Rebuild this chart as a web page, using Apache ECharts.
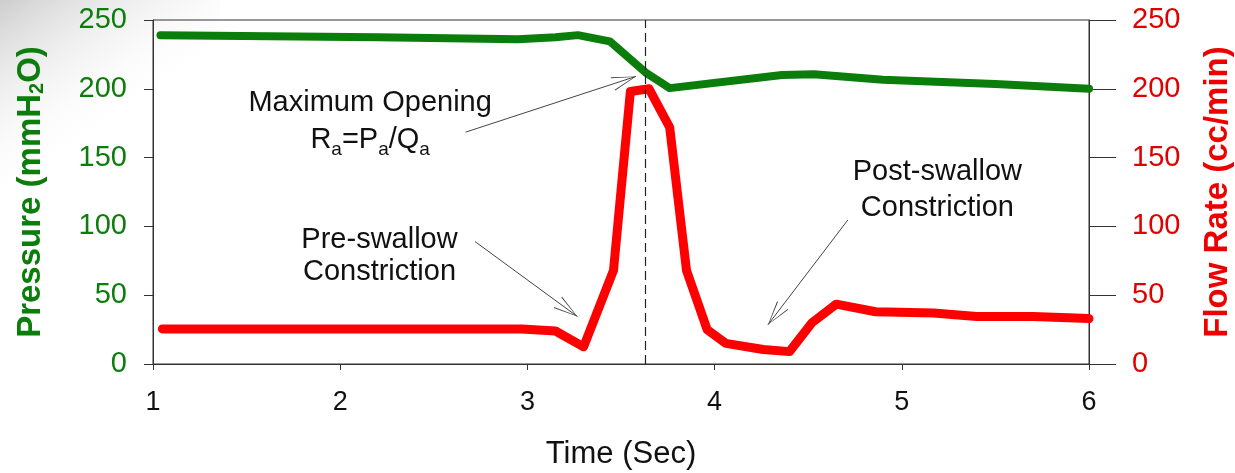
<!DOCTYPE html>
<html>
<head>
<meta charset="utf-8">
<script src="https://cdn.jsdelivr.net/npm/echarts@6/dist/echarts.min.js"></script>
<style>
  html, body { margin: 0; padding: 0; background: #fff; }
  #chart { width: 1235px; height: 473px; }
</style>
</head>
<body>
<div id="chart"></div>
<script>
// Pressure (left axis)
const timePressure = [1.04, 2.2, 2.95, 3.15, 3.27, 3.44, 3.63, 3.76, 4.36, 4.53, 4.9, 5.5, 6.0];
const pressure = [239, 237.5, 236, 237.5, 239, 234.5, 212, 200.5, 210, 210.5, 206.5, 203.5, 200];

// Flow rate (right axis)
const timeFlow = [1.05, 2.97, 3.15, 3.3, 3.46, 3.55, 3.65, 3.76, 3.85, 3.96, 4.06, 4.26, 4.4, 4.52, 4.65, 4.86, 5.17, 5.4, 5.7, 6.0];
const flow = [25.5, 25.5, 24, 12.5, 68, 198, 200, 172, 68, 25, 15, 10.5, 9, 30, 43.5, 38, 37, 34.5, 34.5, 33];

const xTicks = [1, 2, 3, 4, 5, 6];
const yTicks = [0, 50, 100, 150, 200, 250];

// moment of maximum opening (dashed line)
const maxOpeningTime = 3.634;

// annotations: text, [time, value] of text centre
const notes = [
  { text: "Maximum Opening\nR{s|a}=P{s|a}/Q{s|a}", at: [2.16, 176], lh: 37 },
  { text: "Pre-swallow\nConstriction", at: [2.21, 78.5], lh: 32 },
  { text: "Post-swallow\nConstriction", at: [5.19, 126.5], lh: 36 },
];
// arrows: [from, to] in [time, value]
const arrows = [
  [[2.67, 168.5], [3.58, 209]],
  [[2.72, 89], [3.267, 34.5]],
  [[4.712, 104.7], [4.285, 28.5]],
];

const FONT = "Liberation Sans, Arial, Helvetica, sans-serif";
const GREEN = "#0b7d0b";
const RED = "#ff0000";
const AXIS = "#333";

// open arrow head, tip at path centre so it lands on the end point
const arrowHead = "path://M0 0 L7 24 L6 24.4 L0 2 L-6 24.4 L-7 24 Z M0 -24.4 L0.001 -24.4 L0 -24.4 Z";

const chart = echarts.init(document.getElementById("chart"), null, { renderer: "canvas" });

const option = {
  animation: false,
  backgroundColor: "#fff",
  textStyle: { fontFamily: FONT },
  graphic: [
    {
      type: "rect",
      silent: true,
      z: -10,
      shape: { x: 0, y: 0, width: 220, height: 320 },
      style: {
        fill: new echarts.graphic.LinearGradient(0, 0, 1, 1, [
          { offset: 0, color: "rgba(205,205,205,1)" },
          { offset: 0.45, color: "rgba(255,255,255,0)" },
        ]),
      },
    },
  ],
  grid: {
    left: 153,
    right: 146,
    top: 20,
    bottom: 109,
    outerBoundsMode: "none",
    containLabel: false,
    show: true,
    borderColor: AXIS,
    borderWidth: 1,
  },
  xAxis: {
    type: "value",
    min: xTicks[0],
    max: xTicks[xTicks.length - 1],
    interval: 1,
    name: "Time (Sec)",
    nameLocation: "middle",
    nameGap: 75,
    nameTextStyle: { color: "#111", fontSize: 31, fontFamily: FONT },
    axisLine: { show: true, lineStyle: { color: AXIS, width: 1 } },
    axisTick: { show: true, length: 6, lineStyle: { color: AXIS } },
    axisLabel: { color: "#111", fontSize: 27, margin: 25, fontFamily: FONT },
    splitLine: { show: false },
  },
  yAxis: [
    {
      type: "value",
      position: "left",
      min: yTicks[0],
      max: yTicks[yTicks.length - 1],
      interval: 50,
      name: "Pressure (mmH{s|2}O)",
      nameLocation: "middle",
      nameRotate: 90,
      nameGap: 106,
      nameTextStyle: {
        color: GREEN,
        fontSize: 33,
        fontWeight: "bold",
        fontFamily: FONT,
        rich: { s: { fontSize: 20, fontWeight: "bold", color: GREEN, verticalAlign: "bottom", fontFamily: FONT } },
      },
      axisLine: { show: true, lineStyle: { color: AXIS, width: 1 } },
      axisTick: { show: true, length: 9, lineStyle: { color: AXIS } },
      axisLabel: { color: GREEN, fontSize: 29, margin: 26, fontFamily: FONT },
      splitLine: { show: false },
    },
    {
      type: "value",
      position: "right",
      min: yTicks[0],
      max: yTicks[yTicks.length - 1],
      interval: 50,
      name: "Flow Rate (cc/min)",
      nameLocation: "middle",
      nameRotate: 90,
      nameGap: 112,
      nameTextStyle: { color: "#ee0000", fontSize: 33, fontWeight: "bold", fontFamily: FONT },
      axisLine: { show: true, lineStyle: { color: AXIS, width: 1 } },
      axisTick: { show: true, length: 27, lineStyle: { color: AXIS } },
      axisLabel: { color: "#e00000", fontSize: 29, margin: 43, fontFamily: FONT },
      splitLine: { show: false },
    },
  ],
  series: [
    {
      name: "Pressure",
      type: "line",
      yAxisIndex: 0,
      symbol: "none",
      data: timePressure.map((t, i) => [t, pressure[i]]),
      lineStyle: { color: GREEN, width: 8, cap: "round", join: "round" },
      z: 3,
      markLine: {
        silent: true,
        symbol: ["none", arrowHead],
        symbolSize: [14, 49],
        label: { show: false },
        lineStyle: { color: "#444", width: 1, type: "solid" },
        emphasis: { disabled: true },
        data: arrows.map(([a, b]) => [{ coord: a }, { coord: b }]),
      },
      markPoint: {
        silent: true,
        symbol: "circle",
        symbolSize: 1,
        itemStyle: { color: "rgba(0,0,0,0)" },
        data: notes.map((n) => ({
          coord: n.at,
          label: {
            show: true,
            position: "inside",
            formatter: n.text,
            color: "#111",
            fontSize: 29,
            lineHeight: n.lh,
            align: "center",
            fontFamily: FONT,
            rich: { s: { fontSize: 19, color: "#111", verticalAlign: "bottom", lineHeight: 20, fontFamily: FONT } },
          },
        })),
      },
    },
    {
      name: "Flow Rate",
      type: "line",
      yAxisIndex: 1,
      symbol: "none",
      data: timeFlow.map((t, i) => [t, flow[i]]),
      lineStyle: { color: RED, width: 9, cap: "round", join: "round" },
      z: 4,
      markLine: {
        silent: true,
        symbol: "none",
        label: { show: false },
        lineStyle: { color: "#222", width: 1.2, type: [9, 5] },
        emphasis: { disabled: true },
        data: [{ xAxis: maxOpeningTime }],
      },
    },
  ],
};

chart.setOption(option);
window.addEventListener("resize", function () {
  chart.resize();
});
</script>
</body>
</html>
